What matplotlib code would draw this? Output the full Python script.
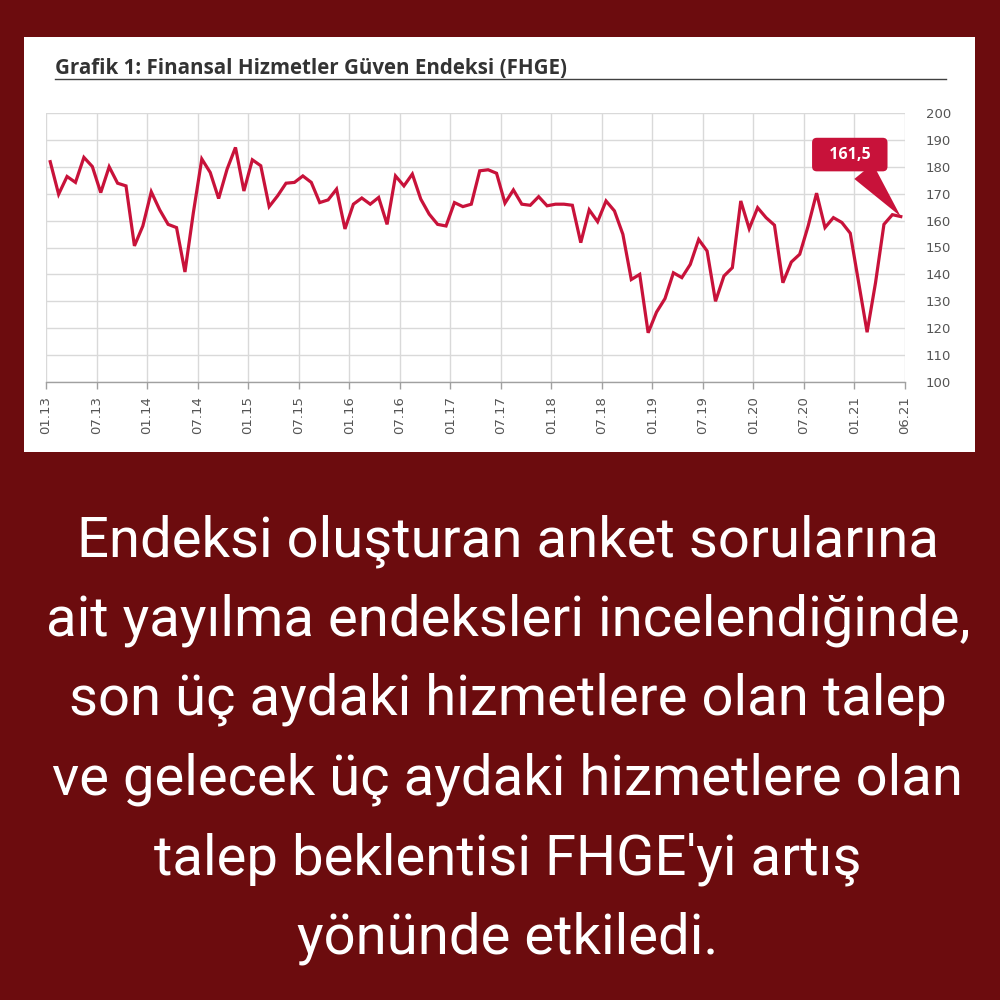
import matplotlib
matplotlib.use("Agg")
import matplotlib.pyplot as plt
from matplotlib.patches import Rectangle
import numpy as np

# ---------------- data ----------------
fhge_values = [
    181.9, 169.8, 176.4, 174.2, 183.5, 180.1, 170.4, 180.0, 173.9, 172.9,
    150.6, 158.0, 170.7, 164.0, 158.6, 157.4, 140.9, 163.0, 182.9, 177.9,
    168.2, 179.1, 187.2, 171.0, 182.6, 180.4, 165.2, 169.2, 173.9, 174.2,
    176.6, 174.2, 166.7, 167.7, 171.7, 156.9, 166.1, 168.4, 166.1, 168.6,
    158.6, 176.6, 172.9, 177.3, 168.0, 162.4, 158.6, 158.0, 166.7, 165.2,
    166.1, 178.5, 178.9, 177.6, 166.5, 171.4, 166.1, 165.7, 168.9, 165.5,
    166.1, 166.1, 165.7, 151.8, 164.0, 159.6, 167.3, 163.6, 154.9, 138.1,
    140.0, 118.3, 126.0, 131.0, 140.6, 138.8, 143.7, 153.0, 148.7, 130.0,
    139.4, 142.5, 167.3, 157.0, 164.8, 161.1, 158.3, 136.9, 144.6, 147.5,
    158.0, 170.2, 157.4, 161.1, 159.3, 155.3, 136.9, 118.5, 136.9, 158.6,
    162.2, 161.5,
]
tick_labels = ["01.13", "07.13", "01.14", "07.14", "01.15", "07.15", "01.16",
               "07.16", "01.17", "07.17", "01.18", "07.18", "01.19", "07.19",
               "01.20", "07.20", "01.21", "06.21"]
y_ticks = [100, 110, 120, 130, 140, 150, 160, 170, 180, 190, 200]
last_label = "161,5"
title = "Grafik 1: Finansal Hizmetler Güven Endeksi (FHGE)"
body_lines = [
    "Endeksi oluşturan anket sorularına",
    "ait yayılma endeksleri incelendiğinde,",
    "son üç aydaki hizmetlere olan talep",
    "ve gelecek üç aydaki hizmetlere olan",
    "talep beklentisi FHGE'yi artış",
    "yönünde etkiledi.",
]

# ---------------- style ----------------
BG = "#6c0c0e"
RED = "#c8123a"
GRID = "#d9d9d9"
TXT = "#555555"

fig = plt.figure(figsize=(10, 10), dpi=100, facecolor=BG)

# white chart panel
fig.patches.append(Rectangle((0.024, 0.548), 0.951, 0.415, transform=fig.transFigure,
                             facecolor="white", edgecolor="none", zorder=-5))

# title + underline
fig.text(0.055, 0.926, title, fontsize=14.8, fontweight="bold", color="#333333",
         family=["Open Sans", "DejaVu Sans"], va="baseline", ha="left")
fig.lines.append(plt.Line2D([0.055, 0.946], [0.921, 0.921], transform=fig.transFigure,
                            color="#404040", lw=1.0))

ax = fig.add_axes([0.046, 0.618, 0.859, 0.269])
ax.set_facecolor("white")
x = np.arange(len(fhge_values))
ax.plot(x, fhge_values, color=RED, lw=2.3, solid_joinstyle="miter", zorder=3)

n = len(fhge_values)
tick_pos = [k * 6 - 0.5 for k in range(len(tick_labels) - 1)] + [n - 0.5]
ax.set_xlim(-0.5, n - 0.5)
ax.set_ylim(100, 200)
ax.set_xticks(tick_pos)
ax.set_xticklabels(tick_labels, rotation=90, fontsize=9.5, color=TXT,
                   family=["DejaVu Sans"])
ax.set_yticks(y_ticks)
ax.yaxis.tick_right()
ax.set_yticklabels([str(v) for v in y_ticks], fontsize=9.5, color=TXT,
                   family=["DejaVu Sans"])
ax.tick_params(axis="y", length=0, pad=15)
ax.tick_params(axis="x", length=5, color="#a0a0a0", width=1, direction="out", pad=5)
ax.grid(True, color=GRID, lw=1.0, zorder=0)
for s in ["top", "left", "right"]:
    ax.spines[s].set_visible(False)
ax.spines["bottom"].set_color("#a0a0a0")
ax.spines["bottom"].set_linewidth(1.0)
ax.set_axisbelow(True)

# callout on the last value
ax.annotate("  " + last_label + "  ", xy=(n - 1, fhge_values[-1]), xytext=(-51, 62),
            textcoords="offset pixels", ha="center", va="center",
            fontsize=11.5, fontweight="bold", color="white",
            family=["Open Sans", "DejaVu Sans"],
            bbox=dict(boxstyle="round,pad=0.55,rounding_size=0.3", fc=RED, ec="none"),
            arrowprops=dict(arrowstyle="wedge,tail_width=1.5,shrink_factor=0.5",
                            fc=RED, ec="none", shrinkA=0, shrinkB=0),
            zorder=5, annotation_clip=False)

# body text
base = 0.444
for i, line in enumerate(body_lines):
    fig.text(0.508, base - i * 0.0795, line, ha="center", va="baseline",
             fontsize=40.5, color="white", family=["Roboto", "DejaVu Sans"])

fig.savefig("out.png", dpi=100, facecolor=BG)
